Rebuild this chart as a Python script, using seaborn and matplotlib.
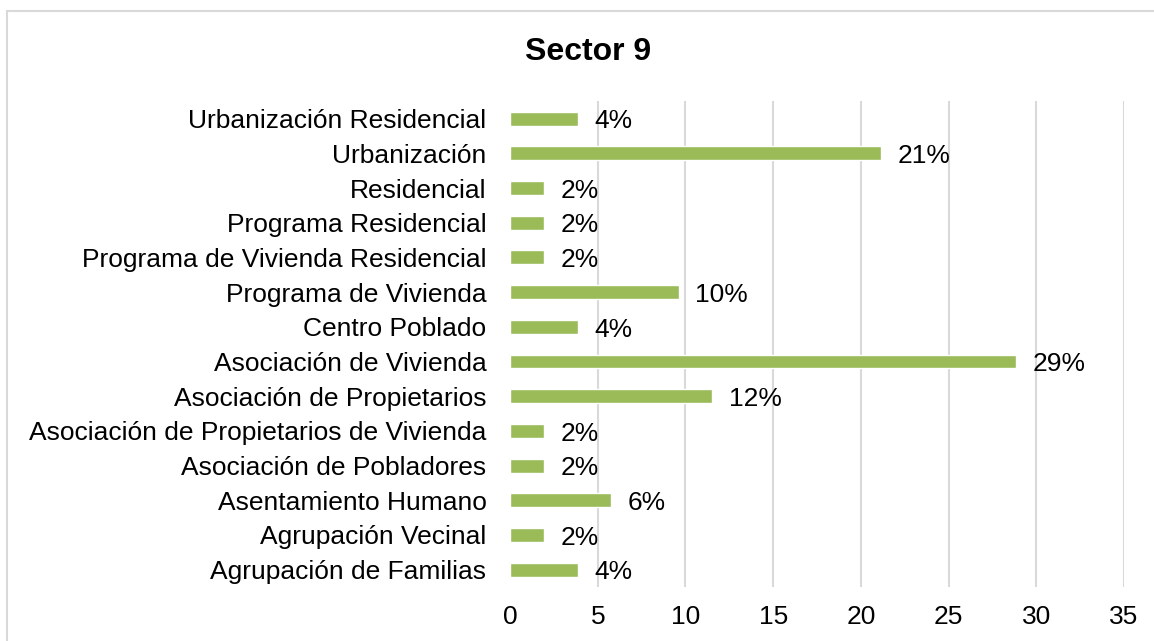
import matplotlib
matplotlib.use("Agg")
import matplotlib.pyplot as plt
import seaborn as sns
import pandas as pd
from matplotlib.lines import Line2D

# Sector 9 - share of settlement types (%)
categories = [
    "Urbanización Residencial",
    "Urbanización",
    "Residencial",
    "Programa Residencial",
    "Programa de Vivienda Residencial",
    "Programa de Vivienda",
    "Centro Poblado",
    "Asociación de Vivienda",
    "Asociación de Propietarios",
    "Asociación de Propietarios de Vivienda",
    "Asociación de Pobladores",
    "Asentamiento Humano",
    "Agrupación Vecinal",
    "Agrupación de Familias",
]
values = [3.85, 21.15, 1.92, 1.92, 1.92, 9.62, 3.85, 28.85, 11.54, 1.92, 1.92, 5.77, 1.92, 3.85]
labels = ["4%", "21%", "2%", "2%", "2%", "10%", "4%", "29%", "12%", "2%", "2%", "6%", "2%", "4%"]
x_ticks = [0, 5, 10, 15, 20, 25, 30, 35]

df = pd.DataFrame({"categoria": categories, "valor": values})

sns.set_style("white")
plt.rcParams["font.family"] = ["Liberation Sans", "DejaVu Sans"]

fs = 19

fig = plt.figure(figsize=(11.54, 6.41), dpi=100)
ax = fig.add_axes([0.442, 0.0842, 1124 / 1154 - 0.442, 0.842 - 0.0842])

sns.barplot(data=df, x="valor", y="categoria", color="#9BBB59", width=0.4,
            saturation=1, ax=ax, zorder=3)

# value labels
for i, (v, lab) in enumerate(zip(values, labels)):
    ax.text(v + 0.95, i + 0.08, lab, va="center", ha="left", fontsize=fs, color="black")

ax.set_xlim(0, 35)
ax.set_ylim(len(categories) - 0.5, -0.5)
ax.set_xticks(x_ticks)
ax.set_xticklabels([str(t) for t in x_ticks])
for t in x_ticks[1:]:
    ax.axvline(t, color="#d9d9d9", lw=1.5, zorder=0)
ax.tick_params(axis="x", length=0, pad=13, labelsize=fs, labelcolor="black")
ax.tick_params(axis="y", length=0, pad=17, labelsize=fs, labelcolor="black")
ax.set_xlabel("")
ax.set_ylabel("")
for s in ax.spines.values():
    s.set_visible(False)

fig.text(588 / 1154, 1 - 52 / 641, "Sector 9", ha="center", va="center",
         fontsize=23, fontweight="bold", color="black")

# chart area border (top and left visible)
fig.add_artist(Line2D([7 / 1154, 7 / 1154], [0, 1 - 11 / 641], transform=fig.transFigure,
                      color="#d9d9d9", lw=1.5))
fig.add_artist(Line2D([7 / 1154, 1], [1 - 11 / 641, 1 - 11 / 641], transform=fig.transFigure,
                      color="#d9d9d9", lw=1.5))

fig.savefig("out.png", dpi=100)
